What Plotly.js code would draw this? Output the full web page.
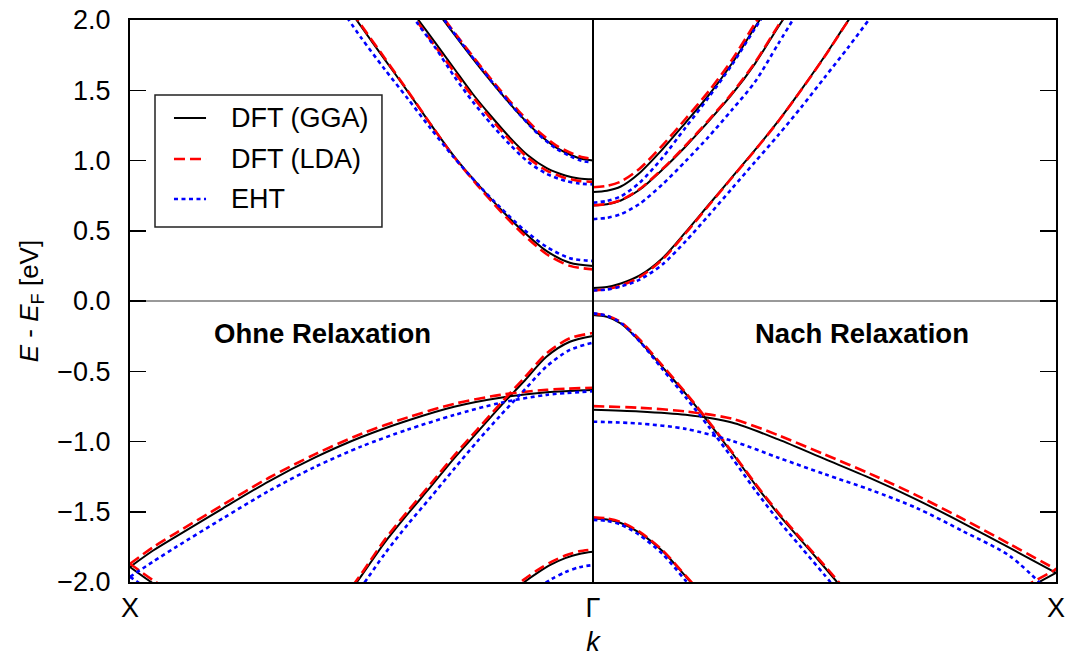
<!DOCTYPE html>
<html>
<head>
<meta charset="utf-8">
<script src="https://cdn.plot.ly/plotly-3.0.1.min.js"></script>
<style>html,body{margin:0;padding:0;background:#fff;}#chart{width:1070px;height:657px;}</style>
</head>
<body>
<div id="chart"></div>
<script>
// k path: X (0) -> Gamma (1) -> X (2)
const kTicks = [0, 1, 2];
const kLabels = ['X', 'Γ', 'X'];
const methods = ['DFT (GGA)', 'DFT (LDA)', 'EHT'];
const panelLabels = ['Ohne Relaxation', 'Nach Relaxation'];

// ---- Left panel (ohne Relaxation), X -> Gamma ----
const L_c1_k   = [0.46, 0.50, 0.55, 0.60, 0.65, 0.70, 0.75, 0.80, 0.85, 0.90, 0.95, 1.00];
const L_c1_gga = [2.14, 1.95, 1.72, 1.49, 1.255, 1.03, 0.835, 0.655, 0.493, 0.355, 0.272, 0.249];
const L_c1_lda = [2.15, 1.96, 1.73, 1.495, 1.255, 1.025, 0.825, 0.64, 0.473, 0.333, 0.25, 0.225];
const L_c1_eht = [2.06, 1.87, 1.65, 1.44, 1.225, 1.02, 0.835, 0.665, 0.51, 0.385, 0.305, 0.285];

const L_c2_k   = [0.58, 0.62, 0.66, 0.70, 0.74, 0.78, 0.82, 0.86, 0.90, 0.94, 0.97, 1.00];
const L_c2_gga = [2.19, 2.013, 1.835, 1.655, 1.475, 1.315, 1.165, 1.035, 0.945, 0.893, 0.872, 0.866];
const L_c2_lda = [2.17, 1.99, 1.81, 1.632, 1.455, 1.295, 1.147, 1.018, 0.928, 0.876, 0.855, 0.849];
const L_c2_eht = [2.16, 1.98, 1.80, 1.60, 1.42, 1.26, 1.115, 0.99, 0.905, 0.855, 0.836, 0.830];

const L_c3_k   = [0.64, 0.68, 0.72, 0.76, 0.80, 0.84, 0.88, 0.92, 0.95, 0.975, 1.00];
const L_c3_gga = [2.16, 1.987, 1.812, 1.643, 1.483, 1.332, 1.197, 1.093, 1.043, 1.012, 1.0];
const L_c3_lda = [2.18, 2.002, 1.828, 1.66, 1.5, 1.35, 1.214, 1.108, 1.057, 1.025, 1.012];
const L_c3_eht = [2.17, 1.995, 1.82, 1.65, 1.487, 1.333, 1.193, 1.085, 1.032, 0.998, 0.985];

const L_v1_k   = [0, 0.05, 0.1, 0.2, 0.3, 0.4, 0.5, 0.6, 0.7, 0.8, 0.9, 1.0];
const L_v1_gga = [-1.893, -1.776, -1.675, -1.477, -1.283, -1.113, -0.968, -0.850, -0.752, -0.688, -0.650, -0.634];
const L_v1_lda = [-1.87, -1.752, -1.65, -1.452, -1.258, -1.09, -0.945, -0.828, -0.732, -0.668, -0.632, -0.617];
const L_v1_eht = [-1.963, -1.855, -1.75, -1.548, -1.352, -1.18, -1.035, -0.915, -0.812, -0.725, -0.668, -0.642];

const L_v2_k   = [0.46, 0.50, 0.55, 0.60, 0.65, 0.70, 0.75, 0.80, 0.85, 0.90, 0.95, 1.00];
const L_v2_gga = [-2.14, -1.955, -1.72, -1.515, -1.32, -1.12, -0.935, -0.75, -0.575, -0.395, -0.29, -0.249];
const L_v2_lda = [-2.12, -1.94, -1.70, -1.495, -1.30, -1.10, -0.915, -0.73, -0.553, -0.372, -0.265, -0.228];
const L_v2_eht = [-2.22, -2.035, -1.80, -1.59, -1.395, -1.195, -1.0, -0.815, -0.64, -0.465, -0.348, -0.297];

const L_v3_k   = [0.82, 0.85, 0.88, 0.91, 0.94, 0.97, 1.00];
const L_v3_gga = [-2.09, -2.005, -1.935, -1.875, -1.83, -1.8, -1.785];
const L_v3_lda = [-2.07, -1.985, -1.915, -1.857, -1.812, -1.782, -1.769];
const L_v3_eht = [-2.2, -2.12, -2.045, -1.98, -1.93, -1.895, -1.879];

const L_v4_k   = [0, 0.05, 0.1];
const L_v4_gga = [-1.893, -2.01, -2.11];
const L_v4_lda = [-1.87, -1.988, -2.09];
const L_v4_eht = [-1.963, -2.075, -2.18];

// ---- Right panel (nach Relaxation), Gamma -> X ----
const R_c1_k   = [1.0, 1.03, 1.06, 1.10, 1.15, 1.20, 1.25, 1.30, 1.35, 1.40, 1.45, 1.50, 1.55, 1.60, 1.65];
const R_c1_gga = [0.092, 0.100, 0.125, 0.18, 0.305, 0.49, 0.685, 0.88, 1.075, 1.28, 1.505, 1.74, 1.99, 2.22, 2.45];
const R_c1_lda = [0.075, 0.085, 0.11, 0.168, 0.295, 0.482, 0.68, 0.877, 1.073, 1.278, 1.503, 1.738, 1.988, 2.22, 2.45];
const R_c1_eht = [0.075, 0.082, 0.103, 0.15, 0.26, 0.425, 0.61, 0.80, 0.99, 1.18, 1.38, 1.59, 1.80, 2.02, 2.24];

const R_c2_k   = [1.0, 1.03, 1.06, 1.10, 1.15, 1.20, 1.25, 1.30, 1.35, 1.40, 1.45];
const R_c2_gga = [0.68, 0.688, 0.715, 0.79, 0.935, 1.10, 1.28, 1.47, 1.69, 1.95, 2.2];
const R_c2_lda = [0.682, 0.69, 0.718, 0.795, 0.94, 1.107, 1.288, 1.478, 1.698, 1.96, 2.21];
const R_c2_eht = [0.583, 0.592, 0.618, 0.69, 0.83, 0.995, 1.17, 1.36, 1.56, 1.83, 2.1];

const R_c3_k   = [1.0, 1.03, 1.06, 1.10, 1.15, 1.20, 1.25, 1.30, 1.35, 1.40];
const R_c3_gga = [0.775, 0.785, 0.815, 0.91, 1.08, 1.27, 1.465, 1.69, 1.95, 2.2];
const R_c3_lda = [0.81, 0.82, 0.85, 0.94, 1.108, 1.297, 1.493, 1.716, 1.976, 2.23];
const R_c3_eht = [0.70, 0.712, 0.745, 0.84, 1.02, 1.235, 1.45, 1.68, 1.94, 2.19];

const R_v1_k   = [1.0, 1.03, 1.06, 1.10, 1.15, 1.20, 1.25, 1.30, 1.35, 1.40, 1.45, 1.50, 1.55];
const R_v1_gga = [-0.100, -0.113, -0.160, -0.283, -0.47, -0.66, -0.865, -1.08, -1.305, -1.515, -1.705, -1.895, -2.09];
const R_v1_lda = [-0.09, -0.104, -0.15, -0.272, -0.46, -0.652, -0.858, -1.073, -1.297, -1.505, -1.695, -1.882, -2.075];
const R_v1_eht = [-0.088, -0.105, -0.155, -0.285, -0.485, -0.685, -0.895, -1.115, -1.345, -1.56, -1.755, -1.95, -2.15];

const R_v2_k   = [1.0, 1.1, 1.2, 1.3, 1.4, 1.5, 1.6, 1.7, 1.8, 1.9, 2.0];
const R_v2_gga = [-0.774, -0.786, -0.81, -0.865, -0.985, -1.124, -1.263, -1.415, -1.582, -1.757, -1.935];
const R_v2_lda = [-0.748, -0.76, -0.786, -0.838, -0.955, -1.092, -1.232, -1.385, -1.553, -1.73, -1.91];
const R_v2_eht = [-0.859, -0.872, -0.91, -0.995, -1.115, -1.232, -1.345, -1.475, -1.64, -1.815, -2.12];

const R_v3_k   = [1.0, 1.03, 1.06, 1.10, 1.15, 1.20, 1.25];
const R_v3_gga = [-1.548, -1.555, -1.58, -1.648, -1.78, -1.96, -2.15];
const R_v3_lda = [-1.54, -1.548, -1.573, -1.642, -1.774, -1.955, -2.14];
const R_v3_eht = [-1.558, -1.565, -1.592, -1.665, -1.80, -1.99, -2.18];

const R_v4_k   = [1.9, 1.95, 2.0];
const R_v4_gga = [-2.12, -2.025, -1.935];
const R_v4_lda = [-2.09, -2.0, -1.91];
const R_v4_eht = [-2.3, -2.2, -2.12];

// ---- assemble ----
const bands = [
  [L_c1_k, L_c1_gga, L_c1_lda, L_c1_eht],
  [L_c2_k, L_c2_gga, L_c2_lda, L_c2_eht],
  [L_c3_k, L_c3_gga, L_c3_lda, L_c3_eht],
  [L_v1_k, L_v1_gga, L_v1_lda, L_v1_eht],
  [L_v2_k, L_v2_gga, L_v2_lda, L_v2_eht],
  [L_v3_k, L_v3_gga, L_v3_lda, L_v3_eht],
  [L_v4_k, L_v4_gga, L_v4_lda, L_v4_eht],
  [R_c1_k, R_c1_gga, R_c1_lda, R_c1_eht],
  [R_c2_k, R_c2_gga, R_c2_lda, R_c2_eht],
  [R_c3_k, R_c3_gga, R_c3_lda, R_c3_eht],
  [R_v1_k, R_v1_gga, R_v1_lda, R_v1_eht],
  [R_v2_k, R_v2_gga, R_v2_lda, R_v2_eht],
  [R_v3_k, R_v3_gga, R_v3_lda, R_v3_eht],
  [R_v4_k, R_v4_gga, R_v4_lda, R_v4_eht]
];

const styles = [
  {color: '#000000', width: 2, dash: 'solid'},
  {color: '#ff0000', width: 2.6, dash: '11px,5px'},
  {color: '#0000ff', width: 2.6, dash: '4px,3.5px'}
];

const traces = [];
for (let m = 0; m < 3; m++) {
  bands.forEach((b, i) => {
    traces.push({
      type: 'scatter', mode: 'lines',
      x: b[0], y: b[m + 1],
      name: methods[m], legendgroup: methods[m], showlegend: false,
      line: Object.assign({shape: 'spline', smoothing: 0.8}, styles[m]),
      hoverinfo: 'skip'
    });
  });
}

const FONT = 'Liberation Sans, Arial, Helvetica, sans-serif';

// legend box drawn in paper coordinates (plot area spans the paper domain)
const legBox = {x0: 0.027, x1: 0.2721, y0: 0.6317, y1: 0.8665};
const legRowsY = [0.8256, 0.7527, 0.6815];
const legSample = [0.0475, 0.0821];
const legTextX = 0.1069;

const shapes = [{
  type: 'line', xref: 'x', yref: 'paper', x0: kTicks[1], x1: kTicks[1], y0: 0, y1: 1,
  line: {color: '#000', width: 2}, layer: 'above'
}, {
  type: 'rect', xref: 'paper', yref: 'paper', x0: legBox.x0, x1: legBox.x1, y0: legBox.y0, y1: legBox.y1,
  fillcolor: '#ffffff', line: {color: '#222', width: 1.5}, layer: 'above'
}];
const annotations = [
  {xref: 'x', yref: 'y', x: 0.416, y: -0.23, text: '<b>' + panelLabels[0] + '</b>', showarrow: false,
   font: {family: FONT, size: 27.5, color: '#000'}},
  {xref: 'x', yref: 'y', x: 1.582, y: -0.23, text: '<b>' + panelLabels[1] + '</b>', showarrow: false,
   font: {family: FONT, size: 27.5, color: '#000'}}
];
methods.forEach((name, m) => {
  shapes.push({
    type: 'line', xref: 'paper', yref: 'paper', x0: legSample[0], x1: legSample[1],
    y0: legRowsY[m], y1: legRowsY[m], line: styles[m], layer: 'above'
  });
  annotations.push({
    xref: 'paper', yref: 'paper', x: legTextX, y: legRowsY[m], xanchor: 'left', yanchor: 'middle',
    text: name, showarrow: false, font: {family: FONT, size: 27, color: '#000'}
  });
});

const layout = {
  width: 1070, height: 657,
  margin: {l: 130, r: 14, t: 20, b: 75, pad: 0},
  paper_bgcolor: '#ffffff', plot_bgcolor: '#ffffff',
  font: {family: FONT, size: 27, color: '#000'},
  showlegend: false,
  xaxis: {
    range: [kTicks[0], kTicks[2]], tickmode: 'array', tickvals: kTicks, ticktext: kLabels,
    ticks: '', showgrid: false, zeroline: false,
    showline: true, mirror: true, linecolor: '#000', linewidth: 2,
    tickfont: {family: FONT, size: 27}, ticklabelstandoff: 1,
    title: {text: '<i>k</i>', font: {family: FONT, size: 27}, standoff: 12}
  },
  yaxis: {
    range: [-2, 2], dtick: 0.5, tick0: 0, tickformat: '.1f',
    ticks: 'inside', ticklen: 16, tickwidth: 1.5, tickcolor: '#000',
    showgrid: false, showline: true, mirror: 'ticks', linecolor: '#000', linewidth: 2,
    zeroline: true, zerolinecolor: '#999999', zerolinewidth: 2,
    tickfont: {family: FONT, size: 27}, ticklabelstandoff: 12,
    title: {text: '<i>E</i> - <i>E</i><sub>F</sub> [eV]', font: {family: FONT, size: 26}, standoff: 11}
  },
  shapes: shapes,
  annotations: annotations
};

Plotly.newPlot('chart', traces, layout, {displayModeBar: false, staticPlot: true});
</script>
</body>
</html>
